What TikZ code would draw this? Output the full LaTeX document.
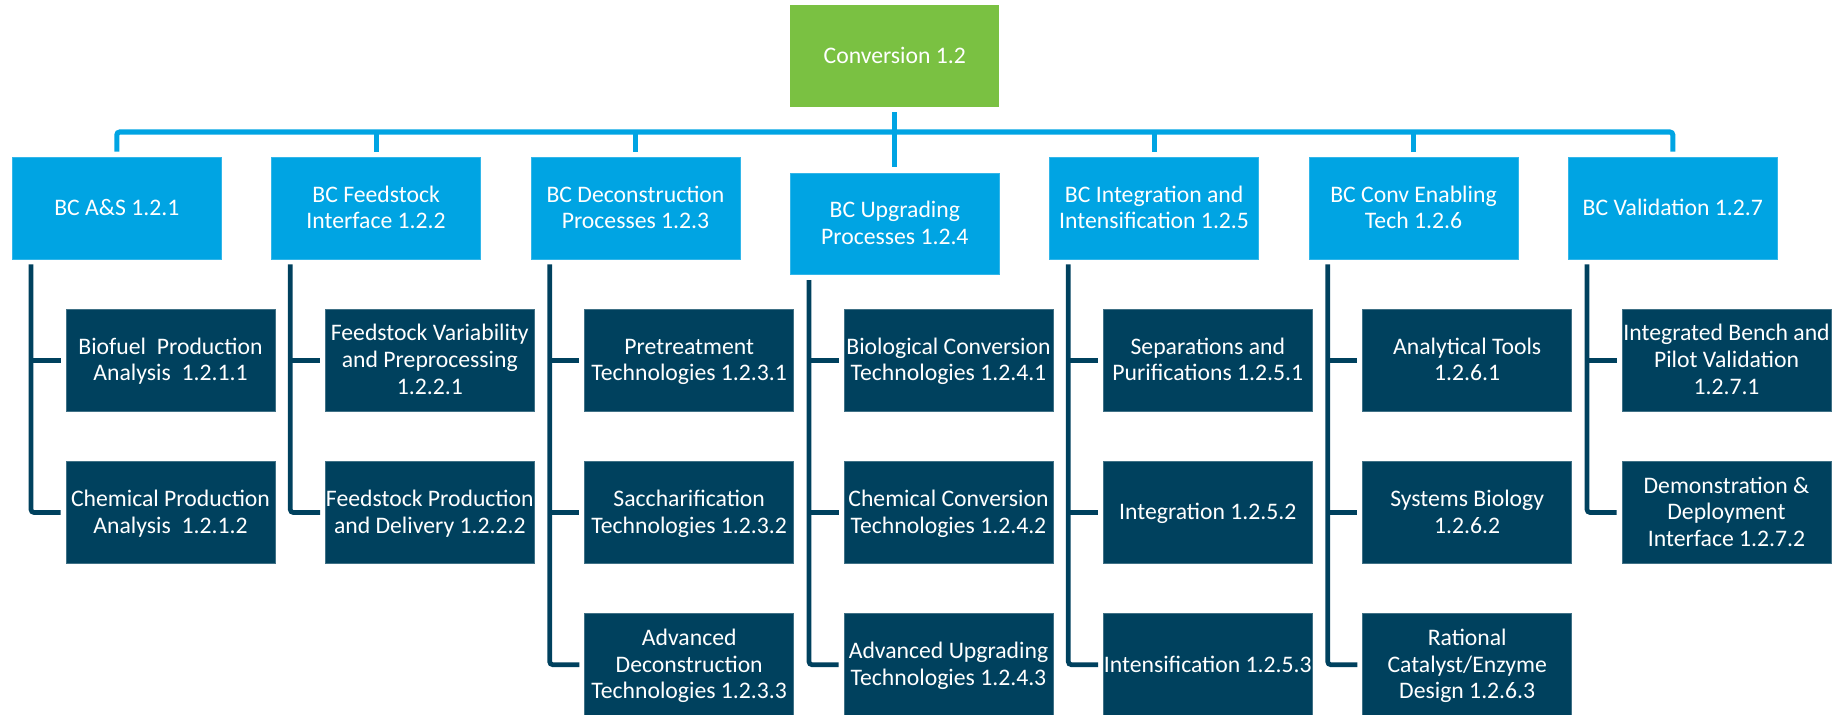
\documentclass[tikz,border=0pt]{standalone}
\usepackage{fontspec}
\setmainfont{Carlito}
\usetikzlibrary{calc}
\definecolor{lvlone}{RGB}{0,164,227}
\definecolor{topgreen}{RGB}{122,193,66}
\definecolor{navy}{RGB}{0,65,94}
\newcommand{\boxtxt}[1]{\raisebox{-1pt}[\height][\depth]{\makebox[0pt]{\begin{tabular}{@{}c@{}}#1\end{tabular}}}}
\begin{document}
\begin{tikzpicture}[x=0.5pt,y=-0.5pt,
  base/.style={rectangle, inner sep=0pt, outer sep=0pt, minimum width=104.5pt, minimum height=51pt, anchor=north west, text=white, font=\fontsize{11.85}{13.35}\selectfont},
  topbox/.style={base, fill=topgreen, minimum height=50.85pt},
  onebox/.style={base, fill=lvlone, draw=lvlone!80!white, line width=0.4pt, minimum height=50.85pt},
  twobox/.style={base, fill=navy, draw=navy!75!white, line width=0.4pt},
  bl/.style={draw=lvlone, line width=2.55pt, rounded corners=1.5pt},
  dl/.style={draw=navy, line width=2.35pt, rounded corners=1.5pt}]
\useasboundingbox (0,0) rectangle (1839,715);

% top
\node[topbox] (conv) at (790.3,5) {\boxtxt{Conversion 1.2}};

% level 1
\node[onebox] (c1) at (12.3,157.3) {\boxtxt{BC A\&S 1.2.1}};
\node[onebox] (c2) at (271.6,157.3) {\boxtxt{BC Feedstock\\Interface 1.2.2}};
\node[onebox] (c3) at (531.0,157.3) {\boxtxt{BC Deconstruction\\Processes 1.2.3}};
\node[onebox] (c4) at (790.3,173.0) {\boxtxt{BC Upgrading\\Processes 1.2.4}};
\node[onebox] (c5) at (1049.6,157.3) {\boxtxt{BC Integration and\\Intensification 1.2.5}};
\node[onebox] (c6) at (1309.0,157.3) {\boxtxt{BC Conv Enabling\\Tech 1.2.6}};
\node[onebox] (c7) at (1568.3,157.3) {\boxtxt{BC Validation 1.2.7}};

% level 2
\node[twobox] (d11) at (66.0,309.3) {\boxtxt{Biofuel~ Production\\Analysis~ 1.2.1.1}};
\node[twobox] (d12) at (66.0,461.5) {\boxtxt{Chemical Production\\Analysis~ 1.2.1.2}};

\node[twobox] (d21) at (325.3,309.3) {\boxtxt{Feedstock Variability\\and Preprocessing\\1.2.2.1}};
\node[twobox] (d22) at (325.3,461.5) {\boxtxt{Feedstock Production\\and Delivery 1.2.2.2}};

\node[twobox] (d31) at (584.7,309.3) {\boxtxt{Pretreatment\\Technologies 1.2.3.1}};
\node[twobox] (d32) at (584.7,461.5) {\boxtxt{Saccharification\\Technologies 1.2.3.2}};
\node[twobox] (d33) at (584.7,613.7) {\boxtxt{Advanced\\Deconstruction\\Technologies 1.2.3.3}};

\node[twobox] (d41) at (844.0,309.3) {\boxtxt{Biological Conversion\\Technologies 1.2.4.1}};
\node[twobox] (d42) at (844.0,461.5) {\boxtxt{Chemical Conversion\\Technologies 1.2.4.2}};
\node[twobox] (d43) at (844.0,613.7) {\boxtxt{Advanced Upgrading\\Technologies 1.2.4.3}};

\node[twobox] (d51) at (1103.3,309.3) {\boxtxt{Separations and\\Purifications 1.2.5.1}};
\node[twobox] (d52) at (1103.3,461.5) {\boxtxt{Integration 1.2.5.2}};
\node[twobox] (d53) at (1103.3,613.7) {\boxtxt{Intensification 1.2.5.3}};

\node[twobox] (d61) at (1362.7,309.3) {\boxtxt{Analytical Tools\\1.2.6.1}};
\node[twobox] (d62) at (1362.7,461.5) {\boxtxt{Systems Biology\\1.2.6.2}};
\node[twobox] (d63) at (1362.7,613.7) {\boxtxt{Rational\\Catalyst/Enzyme\\Design 1.2.6.3}};

\node[twobox] (d71) at (1622.0,309.3) {\boxtxt{Integrated Bench and\\Pilot Validation\\1.2.7.1}};
\node[twobox] (d72) at (1622.0,461.5) {\boxtxt{Demonstration \&\\Deployment\\Interface 1.2.7.2}};

% blue connectors
\coordinate (bar) at (0,132);
\draw[bl] ([yshift=2.8pt]c1.north) |- (c7.north |- bar) -- ([yshift=2.8pt]c7.north);
\foreach \i in {2,3,5,6}
  \draw[bl] ([yshift=2.8pt]c\i.north) -- (c\i.north |- bar);
\draw[bl] ([yshift=-2.8pt]conv.south) -- ([yshift=2.8pt]c4.north);

% dark connectors
\foreach \i/\last/\mids in {1/2/{1}, 2/2/{1}, 3/3/{1,2}, 4/3/{1,2}, 5/3/{1,2}, 6/3/{1,2}, 7/2/{1}} {
  \coordinate (v\i) at ([xshift=9.35pt,yshift=-2.75pt]c\i.south west);
  \draw[dl] (v\i) |- ([xshift=-2.65pt]d\i\last.west);
  \foreach \j in \mids
    \draw[dl] (v\i |- d\i\j.west) -- ([xshift=-2.65pt]d\i\j.west);
}
\end{tikzpicture}
\end{document}
